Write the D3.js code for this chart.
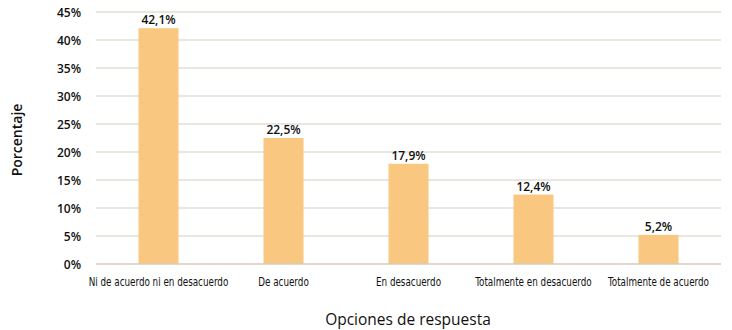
<!DOCTYPE html>
<html><head><meta charset="utf-8">
<script src="https://cdn.jsdelivr.net/npm/d3@7"></script>
<style>body{margin:0;background:#fff}svg{display:block}</style>
</head><body>
<script>
const categories = ["Ni de acuerdo ni en desacuerdo","De acuerdo","En desacuerdo","Totalmente en desacuerdo","Totalmente de acuerdo"];
const values = [42.1, 22.5, 17.9, 12.4, 5.2];
const valueLabels = ["42,1%","22,5%","17,9%","12,4%","5,2%"];
const yTicks = [0,5,10,15,20,25,30,35,40,45];
const yTitle = "Porcentaje";
const xTitle = "Opciones de respuesta";

const W=732,H=330;
const svg=d3.select("body").append("svg").attr("width",W).attr("height",H);
const x=d3.scaleBand().domain(categories).range([96,721]).paddingInner(0.68).paddingOuter(0.34);
const y=d3.scaleLinear().domain([0,45]).range([264,12]);

const g=svg.append("g");
g.selectAll(".grid").data(yTicks.filter(d=>d>0)).join("line")
 .attr("x1",96).attr("x2",721).attr("y1",d=>y(d)).attr("y2",d=>y(d))
 .attr("stroke","#e2dcd4").attr("stroke-width",1.3);

g.selectAll(".bar").data(values).join("rect")
 .attr("x",(d,i)=>x(categories[i])).attr("width",x.bandwidth())
 .attr("y",d=>y(d)).attr("height",d=>y(0)-y(d)).attr("fill","#f9c77f");

g.append("line").attr("x1",96).attr("x2",721).attr("y1",y(0)).attr("y2",y(0))
 .attr("stroke","#d9cbb8").attr("stroke-width",1.5);

const yAxis=d3.axisLeft(y).tickValues(yTicks).tickFormat(d=>d+"%").tickSize(0).tickPadding(15);
const ya=svg.append("g").attr("transform","translate(96,0)").call(yAxis);
ya.select(".domain").remove();
ya.selectAll("text").attr("font-family","Open Sans, sans-serif").attr("font-size",12).attr("font-weight",600).attr("fill","#111").attr("dy","0.35em");

const xAxis=d3.axisBottom(x).tickSize(0).tickPadding(14);
const xa=svg.append("g").attr("transform","translate(0,264)").call(xAxis);
xa.select(".domain").remove();
xa.selectAll("text").attr("font-family","DejaVu Sans Condensed, sans-serif").attr("font-size",11.5).attr("fill","#111").attr("dy","0.71em")
 .attr("transform","scale(0.85,1)");

g.selectAll(".vl").data(values).join("text")
 .attr("x",(d,i)=>x(categories[i])+x.bandwidth()/2).attr("y",d=>y(d)-4)
 .attr("text-anchor","middle").attr("font-family","Open Sans, sans-serif").attr("font-size",12).attr("font-weight",600).attr("fill","#111")
 .text((d,i)=>valueLabels[i]);

svg.append("text").attr("transform","translate(22,140) rotate(-90)").attr("text-anchor","middle")
 .attr("font-family","Open Sans, sans-serif").attr("font-size",14).attr("font-weight",600).attr("fill","#111").text(yTitle);
svg.append("text").attr("x",408).attr("y",325).attr("text-anchor","middle")
 .attr("font-family","Open Sans, sans-serif").attr("font-size",15.5).attr("font-weight",500).attr("fill","#111").text(xTitle);
</script>
</body></html>
